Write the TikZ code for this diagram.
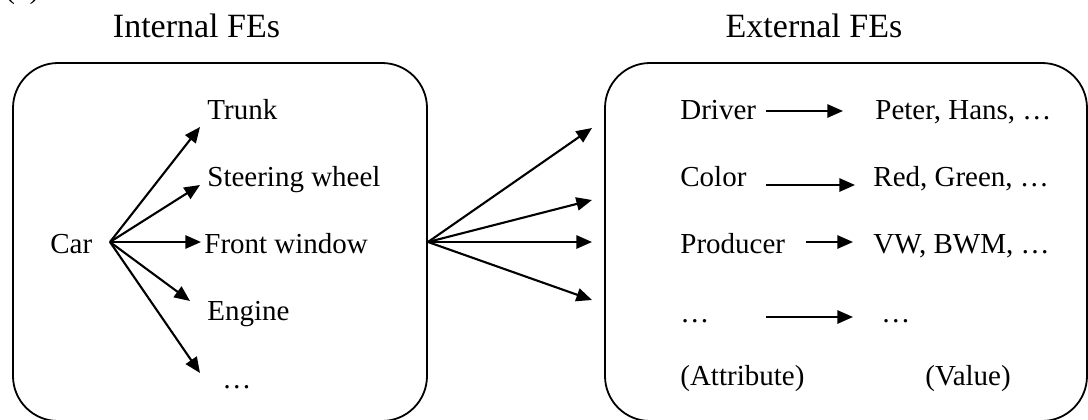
\documentclass[tikz,border=0pt]{standalone}
\usepackage{fontspec}
\setmainfont{Liberation Serif}
\usetikzlibrary{arrows.meta}
\begin{document}
\begin{tikzpicture}[x=0.5pt,y=-0.5pt,
  box/.style={draw=black,line width=0.9pt,rounded corners=22.5pt},
  lbl/.style={inner sep=0pt,anchor=base west,font=\fontsize{14.5pt}{17pt}\selectfont},
  ttl/.style={inner sep=0pt,anchor=base,font=\fontsize{17pt}{20pt}\selectfont},
  arr/.style={-{Triangle[length=7.8pt,width=6.6pt]},line width=1.05pt}]
\useasboundingbox (0,0) rectangle (1088,419);
\clip (0,0) rectangle (1088,419);
% partial caption at top (cut off by the picture's top edge, as in the reference)
\node[lbl] (cap) at (5,-2) {(b)};
% titles
\node[ttl] (tint) at (196.5,37) {Internal FEs};
\node[ttl] (text) at (814,37) {External FEs};
% boxes
\draw[box] (13,63) rectangle (427,421);
\draw[box] (605,63) rectangle (1087,421);
% left box content
\node[lbl] (car) at (50,253) {Car};
\node[lbl] (trunk) at (207,119) {Trunk};
\node[lbl] (steer) at (207,186) {Steering wheel};
\node[lbl] (front) at (204,253) {Front window};
\node[lbl] (engine) at (207,320) {Engine};
\node[lbl] (ldots) at (222,388) {\dots};
\coordinate (carhub) at (110,242);
\coordinate (t1) at (200,127);
\coordinate (t2) at (200,185);
\coordinate (t3) at (201,242);
\coordinate (t4) at (190,301);
\coordinate (t5) at (200,373);
\foreach \t in {t1,t2,t3,t4,t5} \draw[arr] (carhub) -- (\t);
% middle fan
\coordinate (mhub) at (428,242);
\coordinate (m1) at (592,128);
\coordinate (m2) at (592,200);
\coordinate (m3) at (592,242);
\coordinate (m4) at (592,300);
\foreach \m in {m1,m2,m3,m4} \draw[arr] (mhub) -- (\m);
% right box content
\node[lbl] (driver) at (680,119) {Driver};
\node[lbl] (color) at (680,186) {Color};
\node[lbl] (producer) at (680,253) {Producer};
\node[lbl] (adots) at (680,322) {\dots};
\node[lbl] (attr) at (680,385) {(Attribute)};
\node[lbl] (vdriver) at (875,119) {Peter, Hans, \dots};
\node[lbl] (vcolor) at (873,186) {Red, Green, \dots};
\node[lbl] (vprod) at (873,253) {VW, BWM, \dots};
\node[lbl] (vdots) at (881,322) {\dots};
\node[lbl] (val) at (925,385) {(Value)};
\coordinate (a1s) at (766,111); \coordinate (a1e) at (843,111);
\coordinate (a2s) at (766,185); \coordinate (a2e) at (855,185);
\coordinate (a3s) at (806,242); \coordinate (a3e) at (853,242);
\coordinate (a4s) at (766,317); \coordinate (a4e) at (853,317);
\draw[arr] (a1s) -- (a1e);
\draw[arr] (a2s) -- (a2e);
\draw[arr] (a3s) -- (a3e);
\draw[arr] (a4s) -- (a4e);
\end{tikzpicture}
\end{document}
